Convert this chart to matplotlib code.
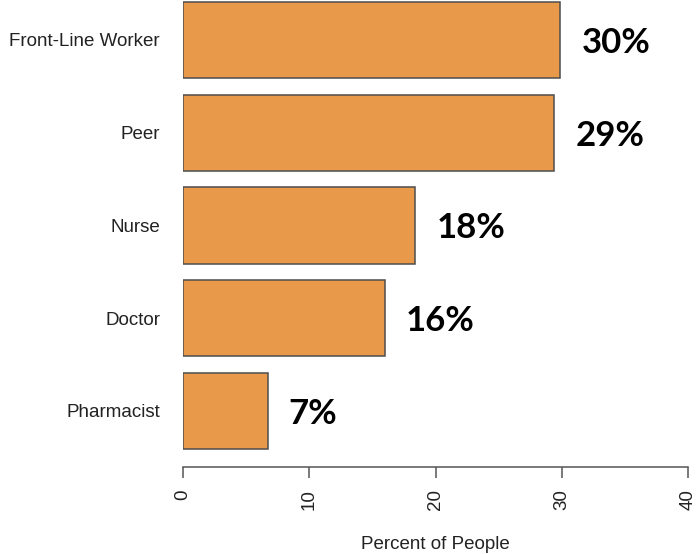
import matplotlib.pyplot as plt
import matplotlib.transforms as mtransforms

roles = ["Pharmacist", "Doctor", "Nurse", "Peer", "Front-Line Worker"]
percent = [6.7, 16.0, 18.4, 29.4, 29.9]
labels = ["7%", "16%", "18%", "29%", "30%"]
xticks = [0, 10, 20, 30, 40]

W, H = 696, 554
fig = plt.figure(figsize=(W / 100, H / 100), dpi=100)
# plot region in pixels: x 183..688, y 0..467 from the top
ax = fig.add_axes([183 / W, (H - 467) / H, (688 - 183) / W, 467 / H])

ypos = list(range(len(roles)))
ax.barh(ypos, percent, height=0.82, color="#E9994A",
        edgecolor="#4d4d4d", linewidth=1.1)

ax.set_xlim(0, 40)
ax.set_ylim(-0.604, 4.431)

for s in ["top", "right", "left"]:
    ax.spines[s].set_visible(False)
ax.spines["bottom"].set_color("#555555")
ax.spines["bottom"].set_linewidth(1.1)
ax.spines["bottom"].set_bounds(0, 40)

txt = dict(fontsize=13.5, family="Liberation Sans", color="#222222")

ax.set_xticks(xticks)
ax.set_xticklabels([str(t) for t in xticks], rotation=90, **txt)
ax.tick_params(axis="x", length=8, width=1.1, color="#555555", pad=8)

ax.set_yticks(ypos)
ax.set_yticklabels(roles, **txt)
ax.tick_params(axis="y", length=0, pad=16.5)

ax.set_xlabel("Percent of People", labelpad=18.5, **txt)

# bold value labels to the right of each bar
off = mtransforms.offset_copy(ax.transData, fig=fig, x=21, y=-3, units="dots")
for y, v, lab in zip(ypos, percent, labels):
    ax.text(v, y, lab, transform=off, fontsize=25, fontweight="bold",
            family="Lato", va="center", ha="left", color="black", clip_on=False)

fig.savefig("out.png", dpi=100)
